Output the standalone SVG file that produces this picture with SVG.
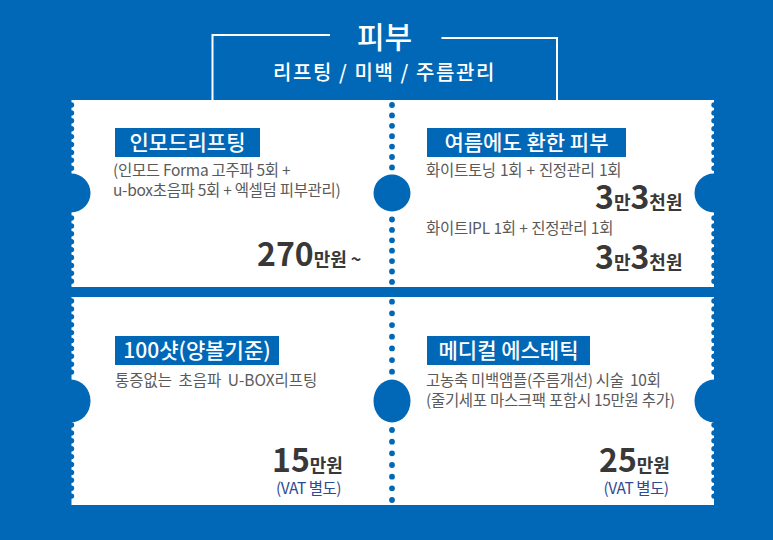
<svg xmlns="http://www.w3.org/2000/svg" width="773" height="540" viewBox="0 0 773 540">
<style>
text{font-family:"Noto Sans CJK KR","Noto Sans",sans-serif}
.bg{fill:#0168b7}
.card{fill:#fff}
.dots{stroke:#0168b7;stroke-linecap:round;fill:none;stroke-width:5.8;stroke-dasharray:0 10.4}
.dots2{stroke:#0168b7;stroke-linecap:round;fill:none;stroke-width:5.8;stroke-dasharray:0 11.67}
.edge{stroke:#0168b7;stroke-linecap:round;fill:none;stroke-width:5.4;stroke-dasharray:0 7.9}
.tag{fill:#0168b7}
.tagt{fill:#fff;font-size:21px;font-weight:500;text-anchor:middle}
.d{fill:#5a5a5a;font-size:15.500px;letter-spacing:-.3px;font-weight:400}
.p{fill:#383838;font-weight:700;font-size:32px}
.u{fill:#383838;font-weight:700;font-size:18px}
.v{fill:#2f4a94;font-size:15.500px;letter-spacing:-.5px;text-anchor:middle}
.fr{stroke:#fff;stroke-width:2;fill:none}
</style>
<rect class="bg" width="773" height="540"/>
<g id="header">
<path class="fr" d="M330 35H212.500V100"/>
<path class="fr" d="M441.500 38H557V100"/>
<text x="384.500" y="48" fill="#fff" font-size="30" font-weight="500" text-anchor="middle">피부</text>
<text x="384.500" y="80" fill="#fff" font-size="20" font-weight="500" letter-spacing="1.600" text-anchor="middle">리프팅 / 미백 / 주름관리</text>
</g>
<g id="card-top">
<rect class="card" x="71.500" y="100" width="642.500" height="187"/>
<path class="edge" d="M71.500 105V171M71.500 218V285"/>
<path class="edge" d="M714 105V171M714 218V285"/>
<circle class="bg" cx="71" cy="193" r="19.500"/>
<circle class="bg" cx="714" cy="193" r="19.500"/>
<circle class="bg" cx="392" cy="193" r="18.500"/>
</g>
<g id="card-bottom">
<rect class="card" x="71.500" y="297" width="642.500" height="208"/>
<path class="edge" d="M71.500 301V378M71.500 425V503"/>
<path class="edge" d="M714 301V378M714 425V503"/>
<ellipse class="bg" cx="71" cy="401" rx="19.500" ry="21.500"/>
<ellipse class="bg" cx="714" cy="401" rx="19.500" ry="21.500"/>
<ellipse class="bg" cx="392" cy="401" rx="18.500" ry="21.500"/>
</g>
<g id="connectors">
<path class="dots" d="M392 105V168M392 219.500V283"/>
<path class="dots2" d="M392 301.700V373M392 430V501"/>
</g>
<g id="n1">
<rect class="tag" x="115" y="128" width="145" height="29"/>
<text class="tagt" x="187.500" y="150">인모드리프팅</text>
<text class="d" x="113" y="176">(인모드 Forma 고주파 5회 +</text>
<text class="d" x="113" y="196">u-box초음파 5회 + 엑셀덤 피부관리)</text>
<text x="257" y="266"><tspan class="p">270</tspan><tspan class="u">만원 ~</tspan></text>
</g>
<g id="n2">
<rect class="tag" x="427" y="128" width="199" height="29"/>
<text class="tagt" x="526.500" y="150">여름에도 환한 피부</text>
<text class="d" x="426" y="176" word-spacing="1">화이트토닝 1회 + 진정관리 1회</text>
<text x="595" y="209"><tspan class="p">3</tspan><tspan class="u">만</tspan><tspan class="p">3</tspan><tspan class="u">천원</tspan></text>
<text class="d" x="426" y="234" word-spacing=".5">화이트IPL 1회 + 진정관리 1회</text>
<text x="595" y="269"><tspan class="p">3</tspan><tspan class="u">만</tspan><tspan class="p">3</tspan><tspan class="u">천원</tspan></text>
</g>
<g id="n3">
<rect class="tag" x="115" y="336" width="164" height="29"/>
<text class="tagt" x="197" y="358">100샷(양볼기준)</text>
<text class="d" x="115" y="386" word-spacing="3" letter-spacing="0" style="letter-spacing:0">통증없는 초음파 U-BOX리프팅</text>
<text x="272" y="472"><tspan class="p">15</tspan><tspan class="u">만원</tspan></text>
<text class="v" x="308.500" y="494">(VAT 별도)</text>
</g>
<g id="n4">
<rect class="tag" x="427" y="336" width="163" height="29"/>
<text class="tagt" x="508.500" y="358">메디컬 에스테틱</text>
<text class="d" x="426" y="386">고농축 미백앰플(주름개선) 시술&#160; 10회</text>
<text class="d" x="426" y="406">(줄기세포 마스크팩 포함시 15만원 추가)</text>
<text x="599" y="472"><tspan class="p">25</tspan><tspan class="u">만원</tspan></text>
<text class="v" x="636" y="494">(VAT 별도)</text>
</g>
</svg>
